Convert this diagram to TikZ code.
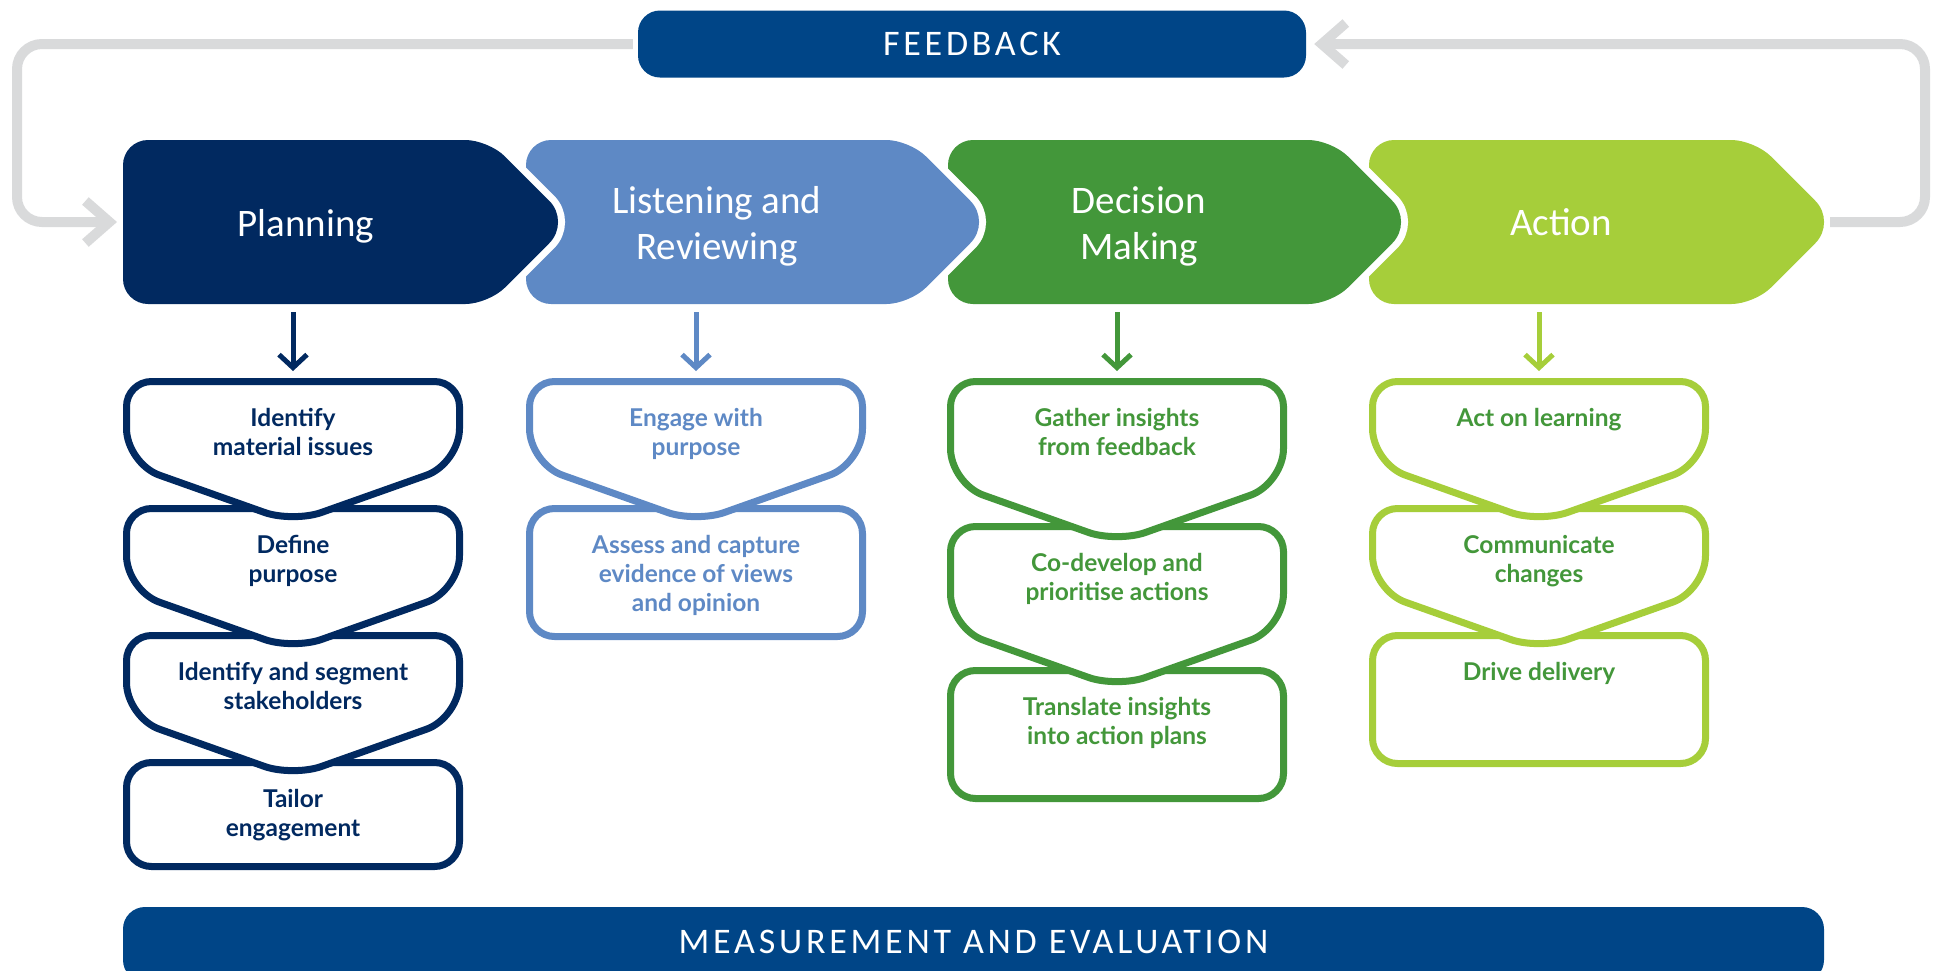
\documentclass[tikz,border=0pt]{standalone}
\usepackage{fontspec}
\usetikzlibrary{arrows.meta}
\newfontfamily\headfont{Carlito}
\newfontfamily\capsfont{Carlito}[LetterSpace=10.5]
\newfontfamily\subfont{Lato}
\definecolor{navy}{HTML}{012960}
\definecolor{barblue}{HTML}{004587}
\definecolor{lblue}{HTML}{5E89C5}
\definecolor{dgreen}{HTML}{43973A}
\definecolor{lime}{HTML}{A6CE3A}
\definecolor{loopgrey}{HTML}{D9DADB}
% heading chevron outline, local coordinates, #1 = tip vertex x
\newcommand\headchev[1]{(0,25) .. controls (0,11.25) and (11.25,0) .. (25,0) -- (#1-105,0) .. controls (#1-92.35,0) and (#1-74.68,7.32) .. (#1-65.74,16.26) -- (#1-21.2,60.8) .. controls (#1-9.55,72.45) and (#1-9.55,91.55) .. (#1-21.2,103.2) -- (#1-65.74,147.74) .. controls (#1-74.68,156.68) and (#1-92.35,164) .. (#1-105,164) -- (25,164) .. controls (11.25,164) and (0,152.75) .. (0,139) -- cycle}
% sub box with chevron bottom, #1 = side vertex y
\newcommand\subchev[1]{(0,25) .. controls (0,11.25) and (11.25,0) .. (25,0) -- (308,0) .. controls (321.75,0) and (333,11.25) .. (333,25) -- (333,#1-35) .. controls (333,#1-15.75) and (318.15,#1+5.3) .. (300,#1+11.7) -- (194.8,#1+49) .. controls (179.2,#1+54.5) and (153.8,#1+54.5) .. (138.2,#1+49) -- (33,#1+11.7) .. controls (14.85,#1+5.3) and (0,#1-15.75) .. (0,#1-35) -- cycle}
\newcommand\chevbox[4]{\begin{scope}[shift={(#1,#2)}]\draw[subbox=#4] \subchev{#3};\end{scope}}
\newcommand\rectbox[4]{\draw[subbox=#4, rounded corners=25] (#1,#2) rectangle ++(333,#3);}
\newcommand\headshape[3]{\begin{scope}[shift={(#1,140)}]\path[gapline] \headchev{#2};\fill[#3] \headchev{#2};\end{scope}}
\tikzset{
  gapline/.style={draw=white, line width=14, line join=round},
  headtext/.style={font=\headfont\fontsize{39}{46}\selectfont, text=white, align=center, inner sep=0},
  capbox/.style={fill=barblue, rounded corners=22, text=white, font=\capsfont\fontsize{36}{40}\selectfont, inner sep=0},
  subbox/.style={draw=#1, fill=white, line width=7, line join=round},
  subtext/.style={font=\subfont\bfseries\fontsize{24.5}{29}\selectfont, text=#1, align=center, anchor=north, inner sep=0},
  darrow/.style={draw=#1, line width=5, -{Straight Barb[length=13pt,width=28pt,sharp]}},
  loopline/.style={draw=loopgrey, line width=10, rounded corners=25, -{Straight Barb[length=24pt,width=42pt,sharp]}},
}
\begin{document}
\begin{tikzpicture}[x=1pt,y=-1pt]
\useasboundingbox (0,0) rectangle (1936,970);
\clip (0,0) rectangle (1936,970);

% heading chevrons, right to left so each tip overlaps the next
\headshape{1369}{467.5}{lime}
\headshape{948}{465.5}{dgreen}
\headshape{526}{465.5}{lblue}
\headshape{123}{447.5}{navy}

\node[headtext] (plan) at (306,226) {Planning};
\node[headtext] (lis) at (717,226) {Listening and\\Reviewing};
\node[headtext] (dec) at (1139,226) {Decision\\Making};
\node[headtext] (act) at (1561,222.5) {Action};

% sub boxes, bottom to top
\rectbox{126.5}{762.5}{104}{navy}
\chevbox{126.5}{635.5}{82}{navy}
\chevbox{126.5}{508.5}{82}{navy}
\chevbox{126.5}{381.5}{82}{navy}

\rectbox{529.5}{508.5}{128}{lblue}
\chevbox{529.5}{381.5}{82}{lblue}

\rectbox{950.5}{670.5}{128}{dgreen}
\chevbox{950.5}{526.5}{102}{dgreen}
\chevbox{950.5}{381.5}{102}{dgreen}

\rectbox{1372.5}{635.5}{128}{lime}
\chevbox{1372.5}{508.5}{82}{lime}
\chevbox{1372.5}{381.5}{82}{lime}

% sub box texts
\node[subtext=navy] (p1) at (293,406) {\strut Identify\\material issues};
\node[subtext=navy] (p2) at (293,533) {\strut Define\\purpose};
\node[subtext=navy] (p3) at (293,660) {\strut Identify and segment\\stakeholders};
\node[subtext=navy] (p4) at (293,787) {\strut Tailor\\engagement};

\node[subtext=lblue] (l1) at (696,406) {\strut Engage with\\purpose};
\node[subtext=lblue] (l2) at (696,533) {\strut Assess and capture\\evidence of views\\and opinion};

\node[subtext=dgreen] (d1) at (1117,406) {\strut Gather insights\\from feedback};
\node[subtext=dgreen] (d2) at (1117,551) {\strut Co-develop and\\prioritise actions};
\node[subtext=dgreen] (d3) at (1117,695) {\strut Translate insights\\into action plans};

\node[subtext=dgreen] (a1) at (1539,406) {\strut Act on learning};
\node[subtext=dgreen] (a2) at (1539,533) {\strut Communicate\\changes};
\node[subtext=dgreen] (a3) at (1539,660) {\strut Drive delivery};

% down arrows
\coordinate (planfoot) at (293,304);  \coordinate (p1top) at (293,378);
\coordinate (lisfoot) at (696,304);   \coordinate (l1top) at (696,378);
\coordinate (decfoot) at (1117,304);  \coordinate (d1top) at (1117,378);
\coordinate (actfoot) at (1539,304);  \coordinate (a1top) at (1539,378);
\draw[darrow=navy] ([yshift=-8]planfoot) -- ([yshift=7]p1top);
\draw[darrow=lblue] ([yshift=-8]lisfoot) -- ([yshift=7]l1top);
\draw[darrow=dgreen] ([yshift=-8]decfoot) -- ([yshift=7]d1top);
\draw[darrow=lime] ([yshift=-8]actfoot) -- ([yshift=7]a1top);

% feedback and measurement bars
\node[capbox, minimum width=668, minimum height=67] (fb) at (972,44) {FEEDBACK};
\node[capbox, minimum width=1701, minimum height=75] (meas) at (973.5,944.5) {\raisebox{4.5pt}{MEASUREMENT AND EVALUATION}};

% feedback loop
\coordinate (planin) at (117,222);
\coordinate (actout) at (1830,222);
\draw[loopline] ([xshift=-5]fb.west) -- (17,44) -- (17,222) -- (planin);
\draw[loopline] (actout) -- (1925,222) -- (1925,44) -- ([xshift=8]fb.east);
\end{tikzpicture}
\end{document}
